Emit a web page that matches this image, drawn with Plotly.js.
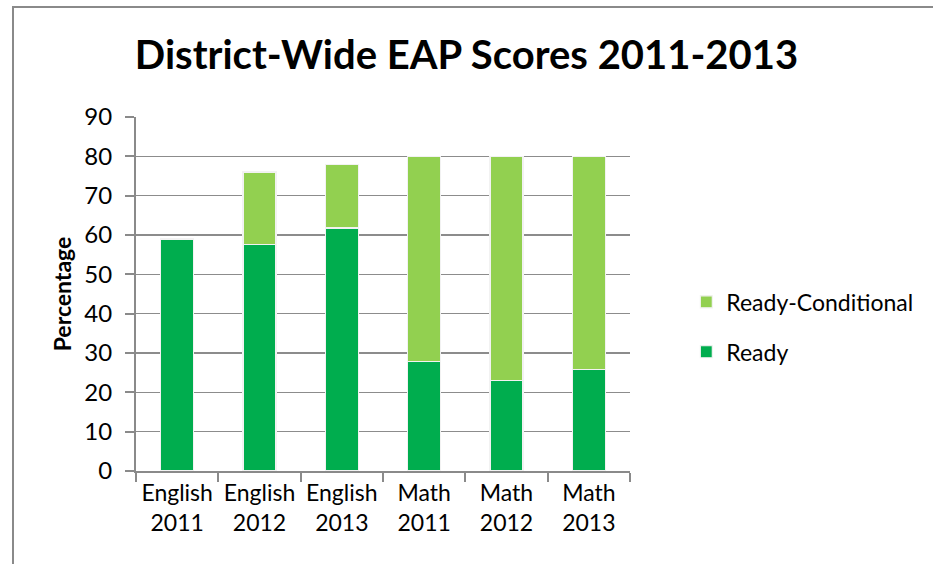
<!DOCTYPE html>
<html>
<head>
<meta charset="utf-8">
<script src="https://cdn.plot.ly/plotly-3.0.1.min.js"></script>
<style>
html,body{margin:0;padding:0;background:#fff;}
#chart{width:933px;height:564px;position:relative;}
#frame{position:absolute;left:12px;top:6px;width:940px;height:600px;border-left:2px solid #8a8a8a;border-top:2px solid #8a8a8a;pointer-events:none;}
</style>
</head>
<body>
<div id="chart"></div>
<div id="frame"></div>
<script>
const categories = ["English<br>2011","English<br>2012","English<br>2013","Math<br>2011","Math<br>2012","Math<br>2013"];
const readyValues = [59, 57.5, 61.8, 27.8, 23, 25.8];
const conditionalValues = [0, 18.5, 16.2, 52.2, 57, 54.2];
const yTicks = [0,10,20,30,40,50,60,70,80,90];

const font = "Lato, 'Open Sans', sans-serif";

const traces = [
  {type:'bar', name:'Ready', legendgroup:'b', legendrank:2, x:categories, y:readyValues,
   marker:{color:'#00ad4e', line:{color:'#f2f2f2', width:1.2}}},
  {type:'bar', name:'Ready-Conditional', legendgroup:'a', legendrank:1, x:categories, y:conditionalValues,
   marker:{color:'#92d050', line:{color:'#f2f2f2', width:1.2}}}
];

const layout = {
  width:933, height:564,
  margin:{l:136, r:303, t:117, b:93, autoexpand:false},
  paper_bgcolor:'#fff', plot_bgcolor:'#fff',
  barmode:'stack', bargap:0.6,
  font:{family:font, size:24, color:'#000'},
  title:{text:'<b>District-Wide EAP Scores 2011-2013</b>', font:{family:font, size:40, color:'#000'},
         x:0.5, xref:'container', xanchor:'center', y:0.902, yref:'container', yanchor:'middle'},
  xaxis:{showgrid:false, showline:true, linecolor:'#8a8a8a', linewidth:2, tickangle:0,
         ticks:'outside', ticklen:9, tickcolor:'#8a8a8a', tickwidth:2, tickson:'boundaries',
         tickfont:{family:font, size:23, color:'#000'}},
  yaxis:{range:[0,90], tickvals:yTicks, showgrid:true, gridcolor:'#8c8c8c', gridwidth:1.5,
         showline:true, linecolor:'#8a8a8a', linewidth:2, zeroline:false,
         ticks:'outside', ticklen:9, tickcolor:'#8a8a8a', tickwidth:2, ticklabelstandoff:8,
         tickfont:{family:font, size:24, color:'#000'},
         title:{text:'<b>Percentage</b>', font:{family:font, size:23, color:'#000'}, standoff:6}},
  legend:{x:1.114, xanchor:'left', y:0.407, yanchor:'middle', traceorder:'grouped',
          font:{family:font, size:23, color:'#000'}, itemwidth:30, tracegroupgap:17},
  showlegend:true
};

Plotly.newPlot('chart', traces, layout, {displayModeBar:false, staticPlot:true});
</script>
</body>
</html>
